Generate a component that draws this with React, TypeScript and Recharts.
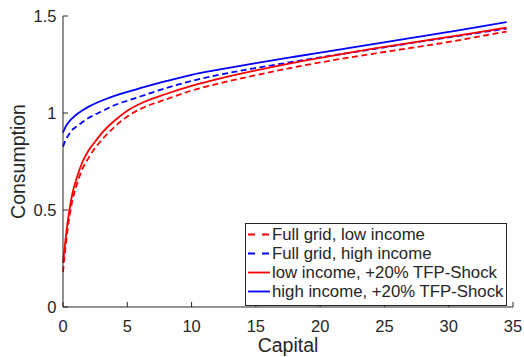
import { LineChart, Line, XAxis, YAxis } from "recharts";

// capital grid (denser near zero where the policy bends)
const capital = [0, 0.1, 0.25, 0.5, 0.75, 1, 1.5, 2, 2.5, 3, 4, 5, 6, 8, 10, 12, 15, 18, 21, 24, 27, 30, 32, 34.5];

const fullLow = [0.18, 0.25, 0.34, 0.465, 0.555, 0.615, 0.71, 0.77, 0.82, 0.86, 0.928, 0.982, 1.02, 1.07, 1.115, 1.15, 1.195, 1.236, 1.272, 1.304, 1.335, 1.366, 1.39, 1.42];
const fullHigh = [0.826, 0.845, 0.866, 0.893, 0.915, 0.928, 0.952, 0.975, 0.992, 1.008, 1.04, 1.063, 1.085, 1.128, 1.165, 1.195, 1.232, 1.265, 1.297, 1.328, 1.36, 1.39, 1.41, 1.435];
const shockLow = [0.227, 0.29, 0.38, 0.5, 0.59, 0.65, 0.745, 0.808, 0.853, 0.895, 0.96, 1.012, 1.048, 1.098, 1.14, 1.175, 1.22, 1.26, 1.296, 1.33, 1.361, 1.392, 1.413, 1.44];
const shockHigh = [0.898, 0.915, 0.935, 0.958, 0.975, 0.99, 1.013, 1.033, 1.049, 1.063, 1.088, 1.109, 1.128, 1.164, 1.197, 1.222, 1.257, 1.29, 1.322, 1.354, 1.386, 1.418, 1.44, 1.469];

const xTicks = [0, 5, 10, 15, 20, 25, 30, 35];
const yTicks = [0, 0.5, 1, 1.5];

const data = capital.map((k, i) => ({
  k,
  fullLow: fullLow[i],
  fullHigh: fullHigh[i],
  shockLow: shockLow[i],
  shockHigh: shockHigh[i],
}));

const RED = "#ff0000";
const BLUE = "#0000ff";
const AX = "#262626";
const FONT = "'Liberation Sans', Arial, Helvetica, sans-serif";

const legendItems = [
  { label: "Full grid, low income", color: RED, dash: "7 7" },
  { label: "Full grid, high income", color: BLUE, dash: "7 7" },
  { label: "low income, +20% TFP-Shock", color: RED, dash: undefined },
  { label: "high income, +20% TFP-Shock", color: BLUE, dash: undefined },
];

function LegendBox() {
  return (
    <div
      style={{
        position: "absolute",
        left: 245,
        top: 223,
        border: `1px solid ${AX}`,
        background: "#fff",
        padding: "1px 3px 4px 2px",
        fontFamily: FONT,
        fontSize: 16.8,
        color: AX,
        lineHeight: "19px",
        whiteSpace: "nowrap",
      }}
    >
      {legendItems.map((it) => (
        <div key={it.label} style={{ display: "flex", alignItems: "center" }}>
          <svg width={22} height={19} style={{ marginRight: 2 }}>
            <line x1={0} x2={22} y1={9.5} y2={9.5} stroke={it.color} strokeWidth={1.8} strokeDasharray={it.dash} />
          </svg>
          <span>{it.label}</span>
        </div>
      ))}
    </div>
  );
}

const tickStyle = { fontSize: 16.5, fill: AX, fontFamily: FONT };
const noLabel = () => <g />;

export default function App() {
  return (
    <div style={{ position: "absolute", left: 0, top: 0, width: 524, height: 357, background: "#fff" }}>
      <LineChart width={524} height={357} data={data} margin={{ top: 16, right: 11, bottom: 0, left: 0 }}>
        <XAxis
          dataKey="k"
          type="number"
          domain={[0, 35]}
          ticks={xTicks}
          height={50}
          stroke={AX}
          tickSize={-5}
          tickMargin={18}
          tick={tickStyle}
          label={{ value: "Capital", position: "insideBottom", offset: 5, style: { fontSize: 19.5, fill: AX, fontFamily: FONT } }}
        />
        <XAxis
          xAxisId="top"
          orientation="top"
          dataKey="k"
          type="number"
          domain={[0, 35]}
          ticks={xTicks}
          height={0}
          stroke={AX}
          tickSize={-5}
          tick={noLabel}
        />
        <YAxis
          type="number"
          domain={[0, 1.5]}
          ticks={yTicks}
          width={63}
          stroke={AX}
          tickSize={-5}
          tickMargin={11.5}
          tick={tickStyle}
          label={{
            value: "Consumption",
            angle: -90,
            position: "insideLeft",
            offset: 18,
            style: { textAnchor: "middle", fontSize: 19.5, fill: AX, fontFamily: FONT },
          }}
        />
        <YAxis
          yAxisId="right"
          orientation="right"
          type="number"
          domain={[0, 1.5]}
          ticks={yTicks}
          width={0}
          stroke={AX}
          tickSize={-5}
          tick={noLabel}
        />
        <Line type="monotone" dataKey="fullLow" stroke={RED} strokeWidth={1.8} strokeDasharray="6 3.5" dot={false} isAnimationActive={false} />
        <Line type="monotone" dataKey="fullHigh" stroke={BLUE} strokeWidth={1.8} strokeDasharray="6 3.5" dot={false} isAnimationActive={false} />
        <Line type="monotone" dataKey="shockLow" stroke={RED} strokeWidth={1.8} dot={false} isAnimationActive={false} />
        <Line type="monotone" dataKey="shockHigh" stroke={BLUE} strokeWidth={1.8} dot={false} isAnimationActive={false} />
      </LineChart>
      <LegendBox />
    </div>
  );
}
